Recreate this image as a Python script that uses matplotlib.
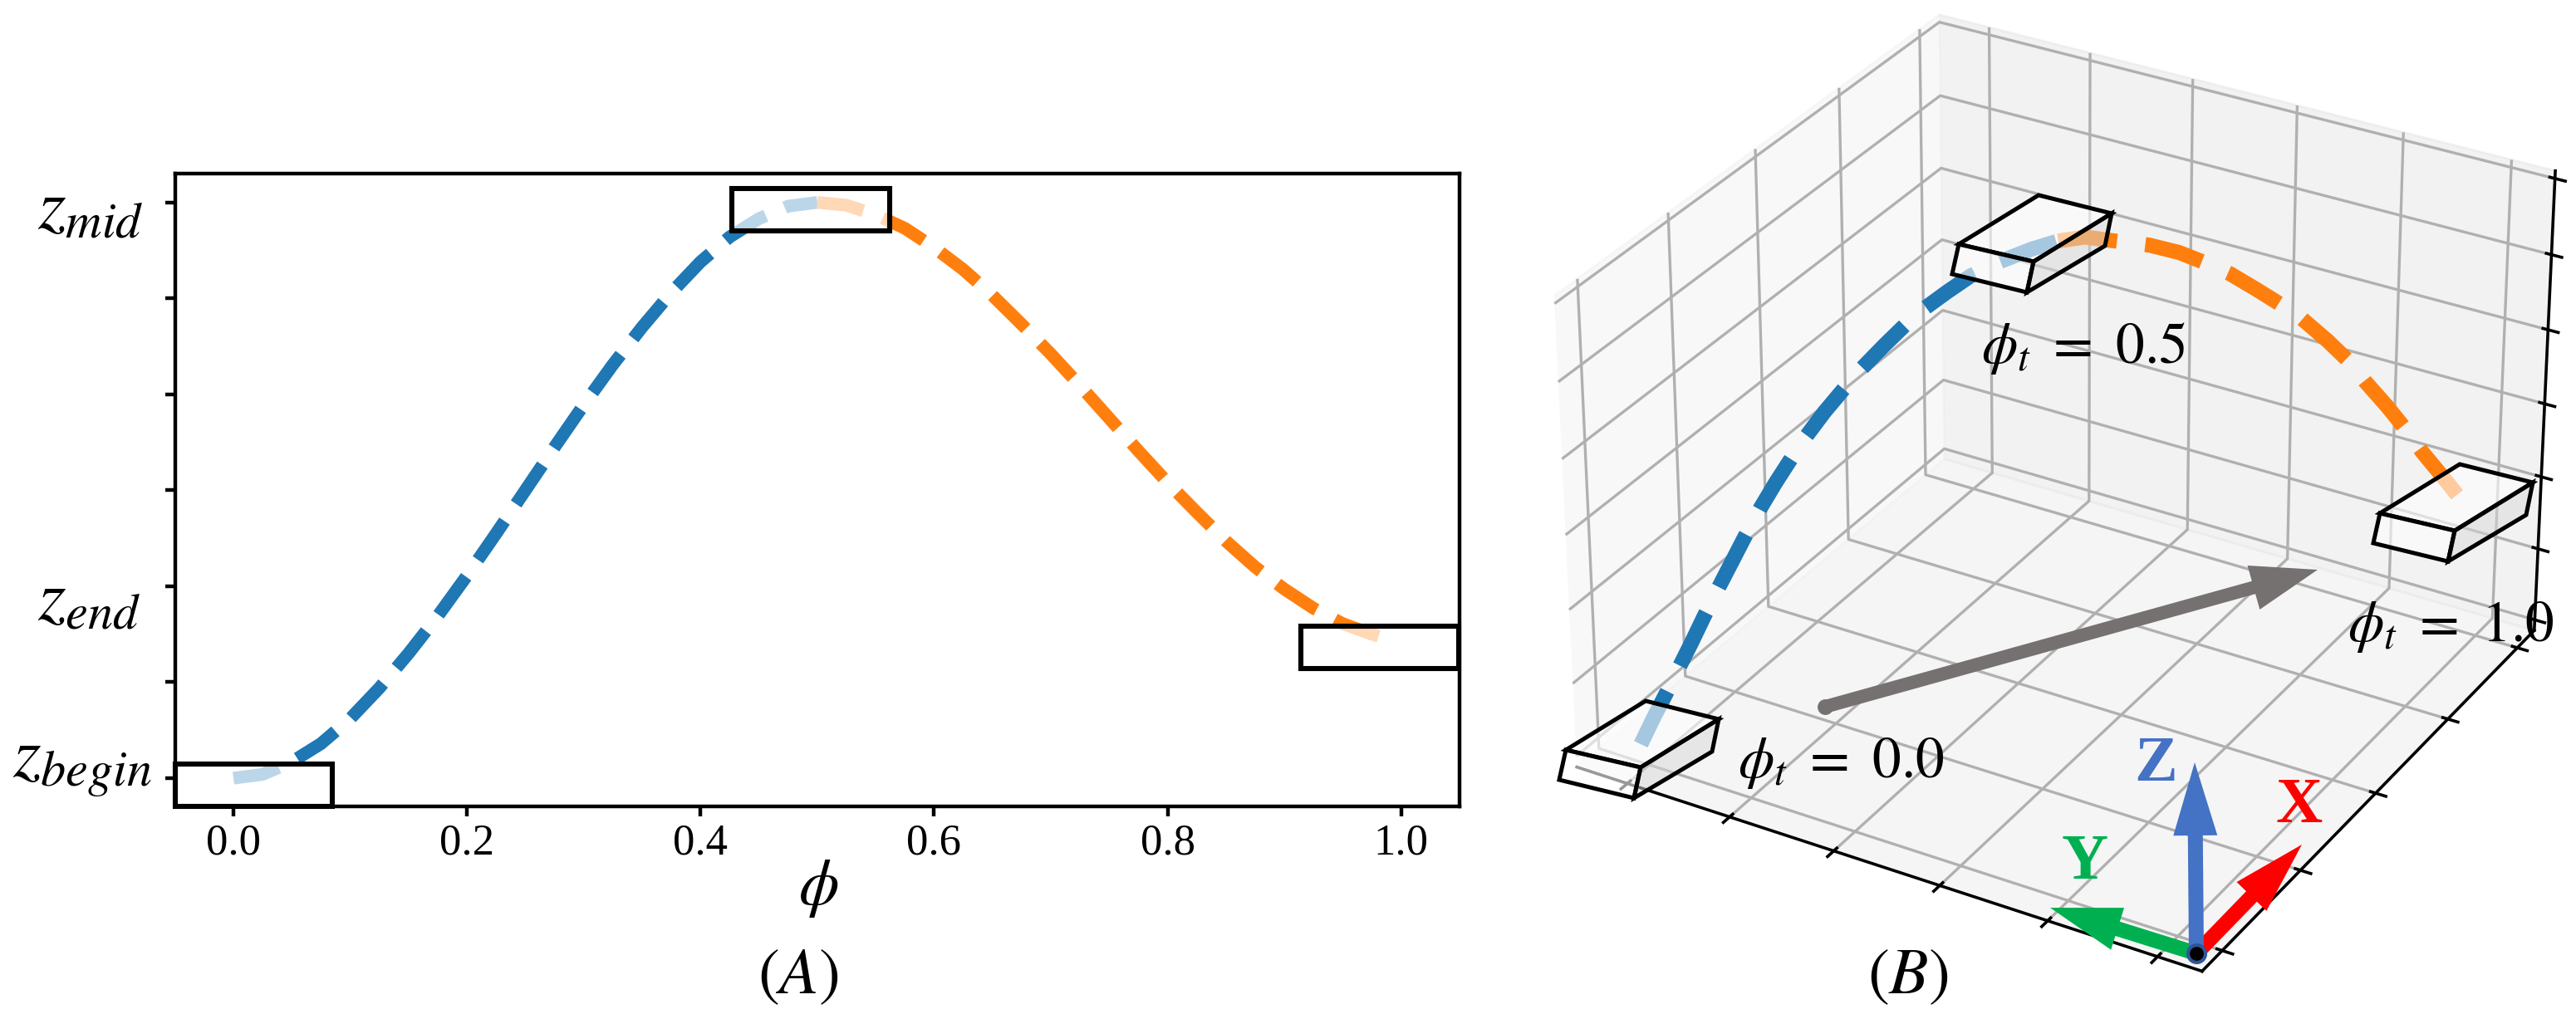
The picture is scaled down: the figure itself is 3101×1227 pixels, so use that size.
import numpy as np
import matplotlib
matplotlib.use('Agg')
import matplotlib.pyplot as plt
from matplotlib.patches import Rectangle, Polygon, FancyArrow

plt.rcParams['font.family'] = ['Liberation Serif', 'DejaVu Sans']
plt.rcParams['mathtext.fontset'] = 'stix'
plt.rcParams['axes.linewidth'] = 1.3
plt.rcParams['xtick.major.width'] = 1.3
plt.rcParams['ytick.major.width'] = 1.3
plt.rcParams['grid.linewidth'] = 1.2

# panel A curve, y in tick steps
phi_up = [0, .025, .05, .075, .1, .125, .15, .175, .2, .225, .25, .275, .3, .325, .35, .375, .4, .425, .45, .475, .5]
z_up = [0, .04, .17, .36, .62, .94, 1.30, 1.69, 2.11, 2.55, 3.0, 3.45, 3.89, 4.31, 4.70, 5.06, 5.38, 5.64, 5.83, 5.96, 6.0]
phi_down = [.5, .525, .55, .575, .6, .625, .65, .675, .7, .725, .75, .775, .8, .825, .85, .875, .9, .925, .95, .975, .986]
z_down = [6.0, 5.97, 5.87, 5.73, 5.53, 5.30, 5.03, 4.73, 4.42, 4.09, 3.75, 3.41, 3.08, 2.77, 2.47, 2.20, 1.97, 1.77, 1.61, 1.50, 1.46]
boxes_a = [(-.05, -.294), (.427, 5.7), (.914, 1.143)]
box_w, box_h = .135, .44

# panel B foot path, blue part then orange part
path_x = [-0.14, -0.06, 0.02, 0.09, 0.17, 0.25, 0.33, 0.41, 0.49, 0.59, 0.68, 0.78, 0.86, 0.97, 1.09, 1.19, 1.31, 1.44, 1.54, 1.67, 1.81, 1.98, 2.16, 2.31, 2.47, 2.62, 2.84, 3.01, 3.17, 3.31, 3.47, 3.63, 3.73, 3.90, 4.04, 4.13, 4.27, 4.40, 4.49, 4.62, 4.75]
path_y = [0.07, 0.13, 0.20, 0.26, 0.33, 0.39, 0.46, 0.53, 0.60, 0.68, 0.75, 0.83, 0.90, 0.99, 1.09, 1.17, 1.28, 1.38, 1.46, 1.58, 1.69, 1.83, 1.98, 2.11, 2.23, 2.36, 2.54, 2.69, 2.82, 2.94, 3.07, 3.20, 3.29, 3.42, 3.54, 3.61, 3.73, 3.84, 3.91, 4.02, 4.13]
path_z = [0.00, 0.33, 0.65, 0.94, 1.27, 1.60, 1.93, 2.25, 2.57, 2.94, 3.24, 3.55, 3.79, 4.08, 4.36, 4.58, 4.82, 5.06, 5.22, 5.39, 5.56, 5.69, 5.79, 5.84, 5.85, 5.75, 5.62, 5.46, 5.27, 5.08, 4.82, 4.55, 4.36, 4.00, 3.65, 3.38, 2.98, 2.58, 2.29, 1.90, 1.50]
mid = 23

W, H = 3101, 1227
fig = plt.figure(figsize=(W / 200, H / 200), dpi=200)

ax = fig.add_axes([210.7 / W, 1 - 971 / H, (1757 - 210.7) / W, (971 - 209) / H])
ax.plot(phi_up, z_up, color='#1f77b4', lw=5.5, ls=(0, (3.7, 1.63)))
ax.plot(phi_down, z_down, color='#ff7f0e', lw=5.5, ls=(0, (3.7, 1.63)))
for bx, by in boxes_a:
    ax.add_patch(Rectangle((bx, by), box_w, box_h, fc=(1, 1, 1, .7), ec='k', lw=2.2, clip_on=False, zorder=5))
ax.set_xlim(-.05, 1.05)
ax.set_ylim(-.294, 6.3)
ax.set_yticks(range(7))
ax.set_yticklabels([])
ax.set_xticks([0, .2, .4, .6, .8, 1])
ax.set_xticklabels(['0.0', '0.2', '0.4', '0.6', '0.8', '1.0'], fontsize=19)
ax.tick_params(axis='x', length=4.3, width=1.6, pad=3)
ax.tick_params(axis='y', length=4.3, width=1.6)
for s in ax.spines.values():
    s.set_linewidth(1.6)

# panel B
S = 1340
ax3 = fig.add_axes([(2467 - S / 2) / W, 1 - (584 + S / 2) / H, S / W, S / H], projection='3d')
ax3.patch.set_alpha(0)
ax3.plot(path_x[:mid + 1], path_y[:mid + 1], path_z[:mid + 1], color='#1f77b4', lw=6.5, ls=(0, (3.95, 1.9)))
ax3.plot(path_x[mid:], path_y[mid:], path_z[mid:], color='#ff7f0e', lw=6.5, ls=(0, (3.95, 1.9)))
ax3.set_xlim(-.5, 5.4)
ax3.set_ylim(-.25, 4.25)
ax3.set_zlim(-.15, 6.1)
ax3.set_xticks(range(6))
ax3.set_yticks(range(5))
ax3.set_zticks(range(7))
ax3.set_xticklabels([])
ax3.set_yticklabels([])
ax3.set_zticklabels([])

ov = fig.add_axes([0, 0, 1, 1], zorder=10)
ov.set_xlim(0, W)
ov.set_ylim(H, 0)
ov.axis('off')
ov.patch.set_alpha(0)

# y labels and captions
ov.text(45, 275, r'$z_{mid}$', fontsize=31, va='baseline')
ov.text(45, 746, r'$z_{end}$', fontsize=31, va='baseline')
ov.text(15, 936, r'$z_{begin}$', fontsize=31, va='baseline')
ov.text(985, 1070, r'$\phi$', fontsize=28, ha='center', va='center')
ov.text(961, 1177, r'$(A)$', fontsize=28, ha='center', va='center')
ov.text(2297, 1177, r'$(B)$', fontsize=28, ha='center', va='center')
ov.text(2385, 437, r'$\phi_t\ =\ 0.5$', fontsize=25, va='baseline')
ov.text(2092, 936, r'$\phi_t\ =\ 0.0$', fontsize=25, va='baseline')
ov.text(2826, 772, r'$\phi_t\ =\ 1.0$', fontsize=25, va='baseline')

# boxes around the waypoints
anchors = [(1885, 903), (2358, 294), (2865, 618)]
top_face = np.array([(96, -59), (184, -37), (90, 21), (0, 0)])
front_face = np.array([(0, 0), (90, 21), (82, 58), (-8, 36)])
side_face = np.array([(90, 21), (184, -37), (176, 2), (82, 58)])
for a in anchors:
    ov.add_patch(Polygon(top_face + a, fc=(1, 1, 1, .6), ec='k', lw=1.8))
    ov.add_patch(Polygon(front_face + a, fc=(1, 1, 1, .6), ec='k', lw=1.8))
    ov.add_patch(Polygon(side_face + a, fc=(.85, .85, .85, .5), ec='k', lw=1.8))

# travel direction and frame arrows
ov.add_patch(FancyArrow(2197, 851, 593, -165, width=16, head_width=55, head_length=80, length_includes_head=True, color='#767171', lw=0))
ov.plot([2197], [851], 'o', color='#767171', ms=5.8)
origin = (2644, 1148)
ov.add_patch(FancyArrow(*origin, 127, -131, width=18, head_width=50, head_length=87, length_includes_head=True, color='#ff0000', lw=0))
ov.add_patch(FancyArrow(*origin, -176, -55, width=18, head_width=53, head_length=85, length_includes_head=True, color='#00b050', lw=0))
ov.add_patch(FancyArrow(*origin, -2, -230, width=18, head_width=53, head_length=88, length_includes_head=True, color='#4472c4', lw=0))
ov.plot(*origin, 'o', color='k', ms=7.5, mec='#2f5597', mew=1.5)
ov.text(2595, 921, 'Z', color='#4472c4', fontweight='bold', fontsize=28, ha='center', va='center')
ov.text(2768, 972, 'X', color='#ff0000', fontweight='bold', fontsize=28, ha='center', va='center')
ov.text(2510, 1039, 'Y', color='#00b050', fontweight='bold', fontsize=28, ha='center', va='center')

fig.savefig('out.png', dpi=200)
